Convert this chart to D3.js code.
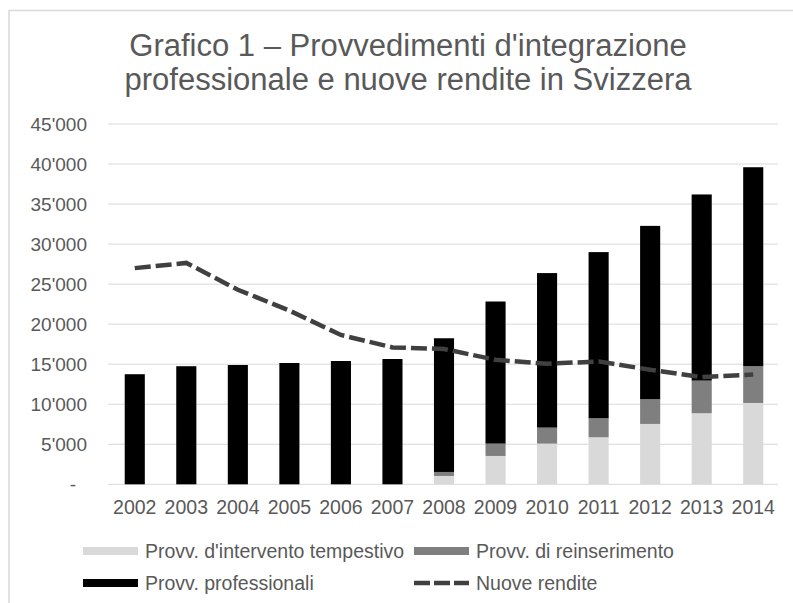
<!DOCTYPE html>
<html>
<head>
<meta charset="utf-8">
<script src="https://cdn.jsdelivr.net/npm/d3@7"></script>
<style>
  body { margin: 0; background: #fff; }
  text { font-family: "Liberation Sans", Arial, sans-serif; fill: #595959; }
</style>
</head>
<body>
<div id="chart"></div>
<script>
// Data
var years = ['2002', '2003', '2004', '2005', '2006', '2007', '2008', '2009', '2010', '2011', '2012', '2013', '2014'];
var tempestivo = [0, 0, 0, 0, 0, 0, 1040, 3540, 5080, 5875, 7540, 8875, 10160];
var reinserimento = [0, 0, 0, 0, 0, 0, 500, 1540, 2000, 2375, 3085, 4075, 4590];
var professionali = [13750, 14750, 14900, 15150, 15400, 15650, 16700, 17750, 19300, 20750, 21650, 23250, 24850];
var nuoveRendite = [27000, 27650, 24300, 21700, 18650, 17100, 16900, 15550, 15050, 15350, 14300, 13400, 13700];
var yTicks = [0, 5000, 10000, 15000, 20000, 25000, 30000, 35000, 40000, 45000];
var seriesNames = ["Provv. d'intervento tempestivo", 'Provv. di reinserimento', 'Provv. professionali', 'Nuove rendite'];
var titleLines = ["Grafico 1 \u2013 Provvedimenti d'integrazione", 'professionale e nuove rendite in Svizzera'];

var width = 793,
    height = 603,
    colors = ['#d9d9d9', '#7f7f7f', '#000000'],
    lineColor = '#404040';

var svg = d3.select('#chart').append('svg')
    .attr('width', width)
    .attr('height', height);

// chart border (only top and left edges are visible in the crop)
svg.append('rect')
    .attr('x', 9).attr('y', 10.5)
    .attr('width', 820).attr('height', 620)
    .attr('fill', 'none')
    .attr('stroke', '#d9d9d9')
    .attr('stroke-width', 1.5);

// title
svg.append('text')
    .attr('text-anchor', 'middle')
    .style('font-size', '31px')
    .selectAll('tspan').data(titleLines).enter().append('tspan')
    .attr('x', 408)
    .attr('y', (d, i) => 56 + i * 34)
    .text(d => d);

// scales
var x = d3.scaleBand()
    .domain(years)
    .range([109, 779])
    .paddingInner(0.61)
    .paddingOuter(0.305);

var y = d3.scaleLinear()
    .domain([0, 45000])
    .range([484.3, 124]);

// gridlines
svg.append('g').selectAll('line').data(yTicks).enter().append('line')
    .attr('x1', 108).attr('x2', 778)
    .attr('y1', d => y(d)).attr('y2', d => y(d))
    .attr('stroke', '#d9d9d9')
    .attr('stroke-width', 1);

// y axis labels
var fmt = d => d === 0 ? '-' : d3.format(',')(d).replace(/,/g, "'");
svg.append('g').selectAll('text').data(yTicks).enter().append('text')
    .attr('x', d => d === 0 ? 76 : 87)
    .attr('y', d => y(d))
    .attr('dy', '0.35em')
    .attr('text-anchor', 'end')
    .style('font-size', '19px')
    .text(fmt);

// x axis labels
svg.append('g').selectAll('text').data(years).enter().append('text')
    .attr('x', d => x(d) + x.bandwidth() / 2)
    .attr('y', 514)
    .attr('text-anchor', 'middle')
    .style('font-size', '19.5px')
    .text(d => d);

// stacked bars
var rows = years.map((yr, i) => ({
    year: yr,
    tempestivo: tempestivo[i],
    reinserimento: reinserimento[i],
    professionali: professionali[i]
}));
var stack = d3.stack().keys(['tempestivo', 'reinserimento', 'professionali']);
var layers = stack(rows);

svg.append('g').selectAll('g').data(layers).enter().append('g')
    .attr('fill', (d, i) => colors[i])
    .selectAll('rect').data(d => d).enter().append('rect')
    .attr('x', d => x(d.data.year))
    .attr('width', x.bandwidth())
    .attr('y', d => y(d[1]))
    .attr('height', d => y(d[0]) - y(d[1]));

// Nuove rendite line
var line = d3.line()
    .x((d, i) => x(years[i]) + x.bandwidth() / 2)
    .y(d => y(d));

svg.append('path')
    .datum(nuoveRendite)
    .attr('d', line)
    .attr('fill', 'none')
    .attr('stroke', lineColor)
    .attr('stroke-width', 4.5)
    .attr('stroke-dasharray', '16,5');

// legend
var legendItems = [
    { name: seriesNames[0], type: 'rect', color: colors[0], x: 83, y: 551 },
    { name: seriesNames[1], type: 'rect', color: colors[1], x: 414, y: 551 },
    { name: seriesNames[2], type: 'rect', color: colors[2], x: 83, y: 583 },
    { name: seriesNames[3], type: 'line', color: lineColor, x: 414, y: 583 }
];
var lg = svg.append('g').selectAll('g').data(legendItems).enter().append('g')
    .attr('transform', d => 'translate(' + d.x + ',' + d.y + ')');

lg.filter(d => d.type === 'rect').append('rect')
    .attr('x', 0).attr('y', -4)
    .attr('width', 55).attr('height', 8)
    .attr('fill', d => d.color);

lg.filter(d => d.type === 'line').append('line')
    .attr('x1', 0).attr('x2', 55)
    .attr('y1', 0).attr('y2', 0)
    .attr('stroke', d => d.color)
    .attr('stroke-width', 4.5)
    .attr('stroke-dasharray', '16,4');

lg.append('text')
    .attr('x', 62)
    .attr('y', 0)
    .attr('dy', '0.35em')
    .style('font-size', '19.5px')
    .text(d => d.name);
</script>
</body>
</html>
